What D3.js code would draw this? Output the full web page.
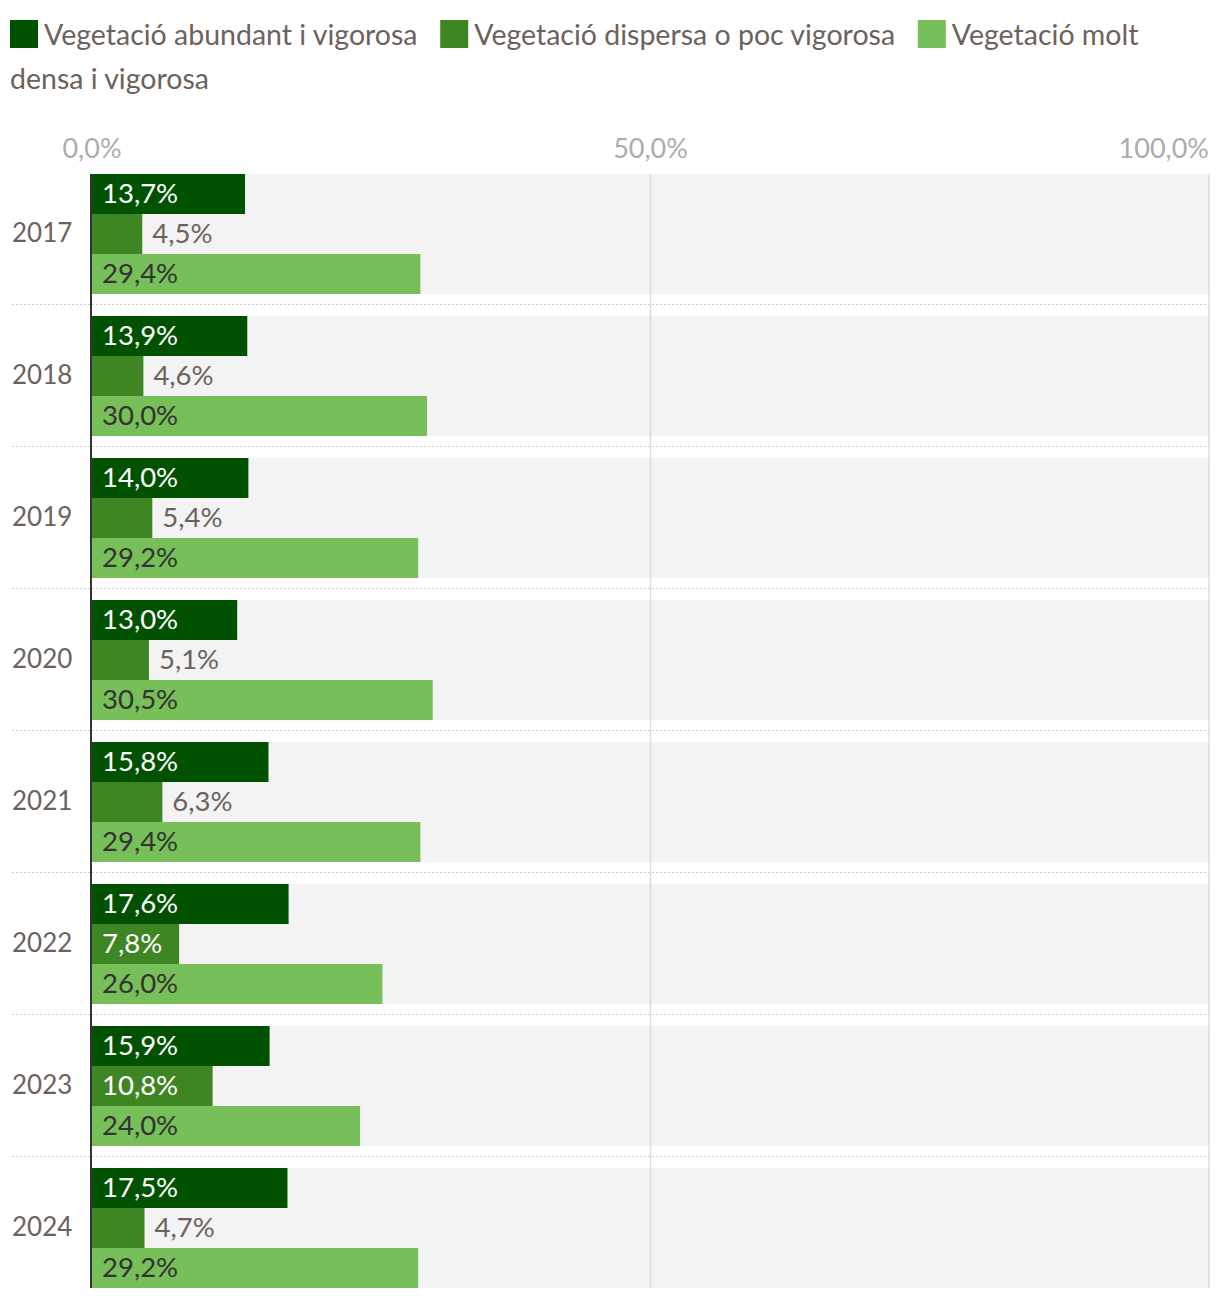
<!DOCTYPE html>
<html lang="ca">

<head>
    <meta charset="UTF-8">
    <title>Vegetació</title>
    <script src="https://d3js.org/d3.v7.min.js"></script>
    <style>
        body {
            margin: 0;
            font-family: Lato, "Noto Sans", sans-serif;
            background: white;
        }

        svg {
            display: block;
        }
    </style>
</head>

<body>
    <svg id="vis"></svg>
    <script>
        const years = ["2017", "2018", "2019", "2020", "2021", "2022", "2023", "2024"];
        const series = ["Vegetació abundant i vigorosa", "Vegetació dispersa o poc vigorosa", "Vegetació molt densa i vigorosa"];
        const colors = ["#005200", "#3d8623", "#77bf58"];
        const abundant = [13.7, 13.9, 14.0, 13.0, 15.8, 17.6, 15.9, 17.5];
        const dispersa = [4.5, 4.6, 5.4, 5.1, 6.3, 7.8, 10.8, 4.7];
        const densa = [29.4, 30.0, 29.2, 30.5, 29.4, 26.0, 24.0, 29.2];
        const ticks = [0, 50, 100];

        const width = 1220, height = 1298;
        const svg = d3.select("#vis").attr("width", width).attr("height", height);
        const fmt = v => d3.format(".1f")(v).replace(".", ",") + "%";
        const textColor = "#6d625b";

        // legend, wrapped word by word
        const legend = svg.append("g").attr("font-size", 28.5).attr("fill", textColor);
        const maxX = 1210, lineH = 44;
        let cx = 10, cy = 34;
        const measure = legend.append("text").attr("visibility", "hidden");
        const wordW = w => measure.text(w).node().getComputedTextLength();
        const spaceW = wordW("a b") - wordW("ab");
        series.forEach((s, i) => {
            if (cx + 34 > maxX) { cx = 10; cy += lineH; }
            legend.append("rect")
                .attr("x", cx).attr("y", cy - 14)
                .attr("width", 28).attr("height", 28)
                .attr("fill", colors[i]);
            cx += 34;
            let line = [];
            let startX = cx;
            const flush = () => {
                if (line.length) {
                    legend.append("text")
                        .attr("x", startX).attr("y", cy)
                        .attr("dominant-baseline", "central")
                        .text(line.join(" "));
                }
            };
            s.split(" ").forEach((w, k) => {
                const ww = wordW(w);
                const add = (line.length ? spaceW : 0) + ww;
                if (cx + add > maxX && line.length) {
                    flush();
                    line = [w];
                    cy += lineH;
                    startX = 10;
                    cx = 10 + ww;
                } else {
                    line.push(w);
                    cx += add;
                }
            });
            flush();
            cx += 22;
        });
        measure.remove();

        const x = d3.scaleLinear().domain([0, 100]).range([92, 1209]);
        const y = d3.scaleBand().domain(years)
            .range([174, 174 + 142 * years.length - 22])
            .paddingInner(22 / 142).paddingOuter(0);
        const yi = d3.scaleBand().domain([0, 1, 2]).range([0, y.bandwidth()]);

        const values = [abundant, dispersa, densa];

        // row backgrounds
        svg.append("g").selectAll("rect")
            .data(years)
            .join("rect")
            .attr("x", x(0))
            .attr("y", d => y(d))
            .attr("width", x(100) - x(0))
            .attr("height", y.bandwidth())
            .attr("fill", "#f3f3f3");

        // separators
        svg.append("g").selectAll("line")
            .data(years.slice(1))
            .join("line")
            .attr("x1", 12)
            .attr("x2", x(100))
            .attr("y1", d => y(d) - 11.5)
            .attr("y2", d => y(d) - 11.5)
            .attr("stroke", "#cfcfcf")
            .attr("stroke-dasharray", "2,2");

        // grid lines
        svg.append("g").selectAll("line")
            .data(ticks.slice(1))
            .join("line")
            .attr("x1", d => x(d))
            .attr("x2", d => x(d))
            .attr("y1", 174)
            .attr("y2", 1288)
            .attr("stroke", "#dcdcdc")
            .attr("stroke-width", 1.5);

        // tick labels
        svg.append("g").selectAll("text")
            .data(ticks)
            .join("text")
            .attr("x", d => x(d))
            .attr("y", 158)
            .attr("text-anchor", (d, i) => i === ticks.length - 1 ? "end" : "middle")
            .attr("font-size", 27)
            .attr("fill", "#acacac")
            .text(d => fmt(d));

        // bars
        const bars = [];
        years.forEach((yr, j) => {
            values.forEach((arr, i) => bars.push({ year: yr, s: i, v: arr[j] }));
        });

        const g = svg.append("g");
        g.selectAll("rect")
            .data(bars)
            .join("rect")
            .attr("x", x(0))
            .attr("y", d => y(d.year) + yi(d.s))
            .attr("width", d => x(d.v) - x(0))
            .attr("height", yi.bandwidth())
            .attr("fill", d => colors[d.s]);

        const inside = d => x(d.v) - x(0) > 78;
        g.selectAll("text")
            .data(bars)
            .join("text")
            .attr("x", d => (inside(d) ? x(0) + 10 : x(d.v) + 10))
            .attr("y", d => y(d.year) + yi(d.s) + yi.bandwidth() / 2 - 2)
            .attr("dominant-baseline", "central")
            .attr("font-size", 27.5)
            .attr("fill", d => {
                if (!inside(d)) return textColor;
                return d.s === 2 ? "#333333" : "white";
            })
            .text(d => fmt(d.v));

        // year labels
        svg.append("g").selectAll("text")
            .data(years)
            .join("text")
            .attr("x", 12)
            .attr("y", d => y(d) + y.bandwidth() / 2 - 2)
            .attr("dominant-baseline", "central")
            .attr("font-size", 26)
            .attr("fill", textColor)
            .text(d => d);

        // axis line
        svg.append("line")
            .attr("x1", x(0) - 1)
            .attr("x2", x(0) - 1)
            .attr("y1", 174)
            .attr("y2", 1288)
            .attr("stroke", "#333")
            .attr("stroke-width", 2);
    </script>
</body>

</html>
